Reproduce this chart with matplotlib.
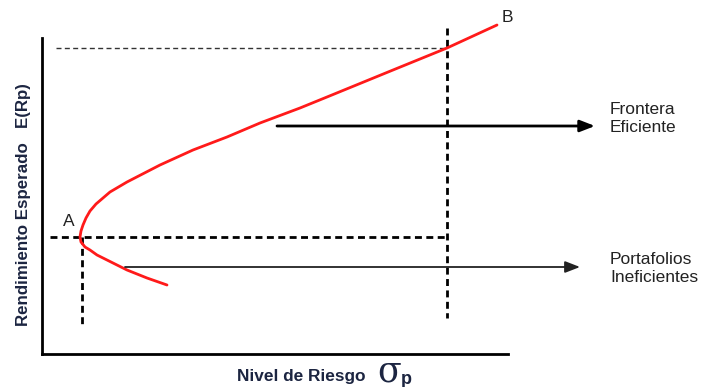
import matplotlib
matplotlib.use("Agg")
import matplotlib.pyplot as plt

plt.rcParams["font.family"] = ["Liberation Sans", "DejaVu Sans"]

# curve points (risk, expected return), from lower end through A up to B
risk = [125, 105, 85, 55, 48, 43, 39, 38, 39, 41, 44, 48, 54, 68, 85, 118, 151, 185, 218, 258, 285, 351, 405, 455]
ret = [69, 76, 84, 99, 104, 107, 112, 117, 123, 129, 136, 143, 150, 162, 172, 189, 204, 217, 231, 246, 257, 284, 306, 329]

# point A (min variance) and reference point on the frontier
a_risk, a_ret = 38, 117
p_risk, p_ret = 405, 306

# arrows: (x start, x end, y)
frontier_arrow = (235, 553, 228)
inefficient_arrow = (83, 538, 87)

W, H = 704, 387
fig = plt.figure(figsize=(W / 100, H / 100), dpi=100)
ax = fig.add_axes([42 / W, 33 / H, 466 / W, 316 / H])
ax.set_xlim(0, 466)
ax.set_ylim(0, 316)
ax.set_xticks([])
ax.set_yticks([])
for s in ["top", "right"]:
    ax.spines[s].set_visible(False)
for s in ["left", "bottom"]:
    ax.spines[s].set_linewidth(2)
    ax.spines[s].set_color("black")

# frontier curve
ax.plot(risk, ret, color="#ff1a1a", lw=2, clip_on=False, zorder=3,
        solid_capstyle="round", solid_joinstyle="round")

# dashed guides
ax.plot([14, p_risk], [p_ret, p_ret], color="#333333", lw=1, dashes=(3.6, 2.4), clip_on=False)
ax.plot([p_risk, p_risk], [326, 36], color="black", lw=2, dashes=(2.5, 1.6), clip_on=False)
ax.plot([8, p_risk], [a_ret, a_ret], color="black", lw=2, dashes=(2.5, 1.6), clip_on=False)
ax.plot([a_risk + 2, a_risk + 2], [a_ret, 29], color="black", lw=2, dashes=(2.5, 1.6), clip_on=False)

# arrows
x0, x1, y = frontier_arrow
ax.annotate("", xy=(x1, y), xytext=(x0, y), annotation_clip=False,
            arrowprops=dict(arrowstyle="-|>,head_length=0.9,head_width=0.35", lw=2, color="black",
                            shrinkA=0, shrinkB=0))
x0, x1, y = inefficient_arrow
ax.annotate("", xy=(x1, y), xytext=(x0, y), annotation_clip=False,
            arrowprops=dict(arrowstyle="-|>,head_length=0.9,head_width=0.35", lw=1.3, color="#222222",
                            shrinkA=0, shrinkB=0))

# labels on the chart
ax.text(465, 337, "B", fontsize=12.5, color="#222222", ha="center", va="center", clip_on=False)
ax.text(27, 133, "A", fontsize=12.5, color="#222222", ha="center", va="center", clip_on=False)
ax.text(568, 236, "Frontera\nEficiente", fontsize=12.5, color="#222222", ha="left", va="center",
        linespacing=1.25, clip_on=False)
ax.text(568, 86, "Portafolios\nIneficientes", fontsize=12.5, color="#222222", ha="left", va="center",
        linespacing=1.25, clip_on=False)

# axis titles
NAVY = "#1c2541"
fig.text(24 / W, 1 - 205 / H, "Rendimiento Esperado   E(Rp)", rotation=90, fontsize=12.2,
         weight="bold", color=NAVY, ha="center", va="center")
fig.text(237 / W, 1 - 376 / H, "Nivel de Riesgo", fontsize=12.4, weight="bold", color=NAVY,
         ha="left", va="center")
fig.text(377 / W, 1 - 371 / H, "σ", fontsize=25, family="DejaVu Serif", color=NAVY,
         ha="left", va="center")
fig.text(401 / W, 1 - 379 / H, "p", fontsize=13, weight="bold", color=NAVY, ha="left", va="center")

fig.savefig("out.png", dpi=100, facecolor="white")
